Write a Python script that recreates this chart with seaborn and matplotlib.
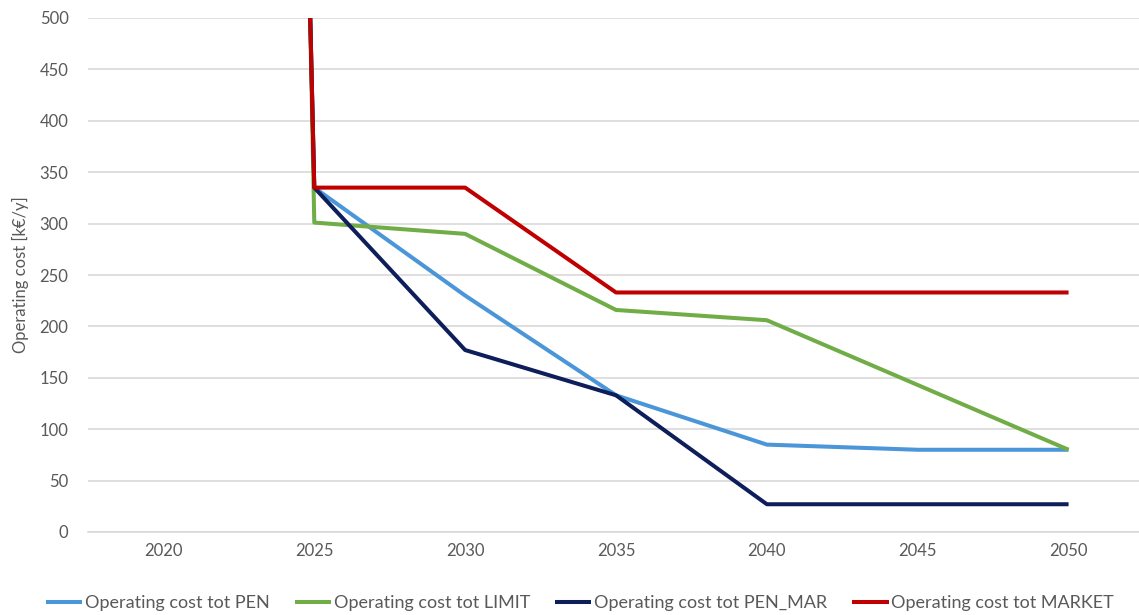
import matplotlib
matplotlib.use("Agg")
import matplotlib.pyplot as plt
import seaborn as sns
import pandas as pd

# Operating cost per scenario [k€/y]
years = [2020, 2025, 2030, 2035, 2040, 2045, 2050]
cost_pen = [6500, 335, 230, 133, 85, 80, 80]
cost_limit = [7500, 301, 290, 216, 206, 143, 80]
cost_pen_mar = [6500, 335, 177, 133, 27, 27, 27]
cost_market = [6500, 335, 335, 233, 233, 233, 233]

series_names = [
    "Operating cost tot PEN",
    "Operating cost tot LIMIT",
    "Operating cost tot PEN_MAR",
    "Operating cost tot MARKET",
]
series_values = [cost_pen, cost_limit, cost_pen_mar, cost_market]
colors = ["#4A96D8", "#70AD47", "#0E1E5B", "#C00000"]

frames = []
for name, vals in zip(series_names, series_values):
    frames.append(pd.DataFrame({"year": years, "cost": vals, "series": name}))
df = pd.concat(frames, ignore_index=True)

sns.set_theme(style="white")
plt.rcParams["font.family"] = ["Lato", "DejaVu Sans"]
text_color = "#595959"

fig = plt.figure(figsize=(11.39, 6.15), dpi=100)
ax = fig.add_axes([88 / 1139, 1 - 532 / 615, (1144 - 88) / 1139, (532 - 18) / 615])

sns.lineplot(
    data=df, x="year", y="cost", hue="series", hue_order=series_names,
    palette=colors, linewidth=2.9, sort=False, ax=ax, legend=True,
)
for line in ax.get_lines():
    line.set_solid_joinstyle("round")
    line.set_solid_capstyle("butt")

ax.set_xlim(2017.5, 2052.5)
ax.set_ylim(0, 500)
ax.set_xticks(years)
ax.set_xticklabels([str(y) for y in years])
ax.set_yticks(range(0, 501, 50))
ax.yaxis.grid(True, color="#D9D9D9", linewidth=1.2)
ax.xaxis.grid(False)
ax.set_axisbelow(True)
for side in ["left", "right", "top"]:
    ax.spines[side].set_visible(False)
ax.spines["bottom"].set_color("#D9D9D9")
ax.spines["bottom"].set_linewidth(1.2)
ax.tick_params(axis="both", length=0, labelsize=12, labelcolor=text_color)
ax.tick_params(axis="x", pad=8)
ax.tick_params(axis="y", pad=14)
ax.set_xlabel("")
ax.set_ylabel("Operating cost [k€/y]", fontsize=12, color=text_color, labelpad=8)

handles, labels = ax.get_legend_handles_labels()
ax.get_legend().remove()
fig.legend(
    handles, labels, loc="center", bbox_to_anchor=(580 / 1139, 1 - 603 / 615),
    ncol=4, frameon=False, fontsize=13, labelcolor=text_color,
    handlelength=2.0, handletextpad=0.15, columnspacing=1.4,
)

fig.savefig("out.png", dpi=100)
